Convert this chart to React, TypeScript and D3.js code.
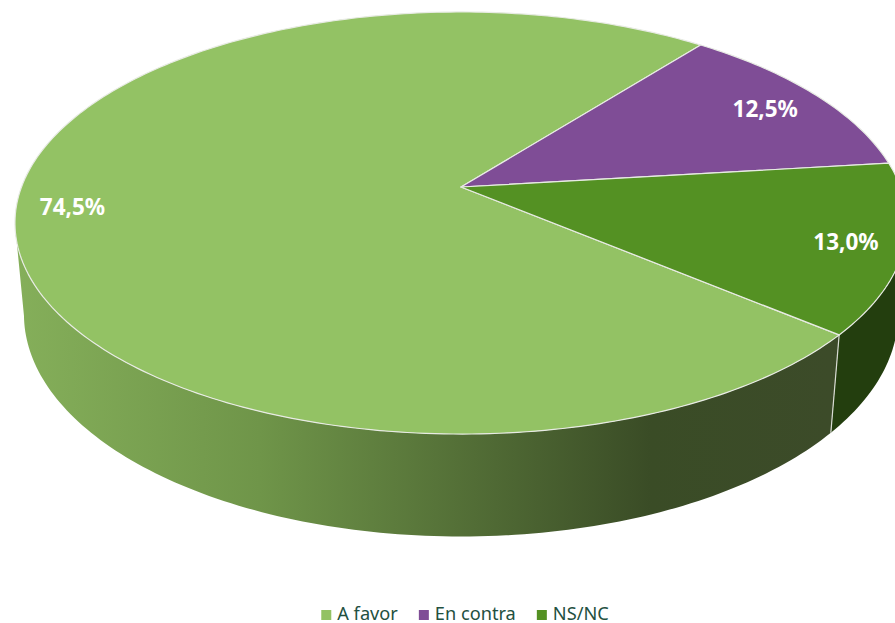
import React, { useEffect, useRef } from 'react';
import * as d3 from 'd3';

const categories = ['A favor', 'En contra', 'NS/NC'];
const shares = [74.5, 12.5, 13.0];
const sliceColors = ['#93c264', '#7f4d96', '#549123'];
const shareLabels = ['74,5%', '12,5%', '13,0%'];
const labelRadius = [0.875, 0.85, 0.875];

const width = 895;
const height = 623;
const deg = Math.PI / 180;

// Only this part of the rim faces the viewer, the rest of the wall is behind the top
const frontFrom = 100 * deg;
const frontTo = 260 * deg;

// Tilted disc seen in perspective: angle clockwise from 12 o'clock, r in 0..1, z 0 (top) or 1 (base)
const project = (angle: number, r = 1, z = 0): [number, number] => {
    const u = r * Math.sin(angle);
    const v = -r * Math.cos(angle);
    const w = 1 - 0.1706 * v + 0.02 * z;
    return [461 + (439.5 * u) / w, 187 + (204.9 * v + 92 * z) / w];
};

const samples = (a0: number, a1: number) => {
    const n = Math.ceil(Math.abs(a1 - a0) / deg);
    return d3.range(n + 1).map((i) => a0 + ((a1 - a0) * i) / n);
};

export default function App() {
    const svgRef = useRef<SVGSVGElement>(null);

    useEffect(() => {
        if (!svgRef.current) return;
        const svg = d3.select(svgRef.current);
        svg.selectAll('*').remove();

        const arcs = d3.pie<number>()
            .sort(null)
            .startAngle(130 * deg)
            .endAngle(490 * deg)(shares);

        const line = d3.line();

        // Wall shading
        const defs = svg.append('defs');
        const grad = defs.append('linearGradient')
            .attr('id', 'wall-a')
            .attr('gradientUnits', 'userSpaceOnUse')
            .attr('x1', 15).attr('x2', 830).attr('y1', 0).attr('y2', 0);
        grad.append('stop').attr('offset', 0).attr('stop-color', '#85af5a');
        grad.append('stop').attr('offset', 0.3).attr('stop-color', '#6f9549');
        grad.append('stop').attr('offset', 0.78).attr('stop-color', '#3a4c26');
        grad.append('stop').attr('offset', 1).attr('stop-color', '#3c4b29');

        const wallFill = ['url(#wall-a)', '#3d2549', '#233e0e'];

        const walls = svg.append('g').attr('class', 'walls');
        arcs.forEach((d, i) => {
            // Slices past a full turn are brought back to the first turn
            const turn = d.startAngle >= 360 * deg ? 360 * deg : 0;
            const a0 = Math.max(d.startAngle - turn, frontFrom);
            const a1 = Math.min(d.endAngle - turn, frontTo);
            if (a0 >= a1) return;
            const a = samples(a0, a1);
            const pts = [
                ...a.map((t) => project(t, 1, 0)),
                ...a.slice().reverse().map((t) => project(t, 1, 1)),
            ];
            walls.append('path')
                .attr('d', line(pts) + 'Z')
                .attr('fill', wallFill[i]);
        });

        // Seam between the two visible wall pieces
        walls.append('path')
            .attr('d', line([project(arcs[0].startAngle, 1, 0), project(arcs[0].startAngle, 1, 1)]))
            .attr('stroke', '#d9dcd4')
            .attr('stroke-width', 1.2)
            .attr('fill', 'none');

        // Top face
        const tops = svg.append('g').attr('class', 'tops');
        arcs.forEach((d, i) => {
            const pts = [project(0, 0), ...samples(d.startAngle, d.endAngle).map((t) => project(t))];
            tops.append('path')
                .attr('d', line(pts) + 'Z')
                .attr('fill', sliceColors[i])
                .attr('stroke', '#e8ebe4')
                .attr('stroke-width', 1.2)
                .attr('stroke-linejoin', 'round');
        });

        // Percent labels
        arcs.forEach((d, i) => {
            const [x, y] = project((d.startAngle + d.endAngle) / 2, labelRadius[i]);
            svg.append('text')
                .attr('x', x)
                .attr('y', y)
                .attr('dy', '0.43em')
                .attr('text-anchor', 'middle')
                .attr('fill', '#ffffff')
                .style('font-family', '"Noto Sans", sans-serif')
                .style('font-size', '22.5px')
                .style('font-weight', 700)
                .text(shareLabels[i]);
        });

        // Legend, centred as a row
        const legend = svg.append('g').attr('class', 'legend');
        let x = 0;
        categories.forEach((name, i) => {
            const g = legend.append('g').attr('transform', `translate(${x},0)`);
            g.append('rect')
                .attr('x', 0).attr('y', 610)
                .attr('width', 10).attr('height', 10)
                .attr('fill', sliceColors[i]);
            const label = g.append('text')
                .attr('x', 16).attr('y', 620)
                .attr('fill', '#23503f')
                .style('font-family', '"Noto Sans", sans-serif')
                .style('font-size', '18.2px')
                .text(name);
            x += 16 + (label.node() as SVGTextElement).getComputedTextLength() + 21;
        });
        legend.attr('transform', `translate(${465 - (x - 21) / 2},0)`);
    }, []);

    return (
        <svg
            ref={svgRef}
            width={width}
            height={height}
            viewBox={`0 0 ${width} ${height}`}
            style={{ position: 'absolute', left: 0, top: 0, display: 'block', background: '#ffffff' }}
        />
    );
}
